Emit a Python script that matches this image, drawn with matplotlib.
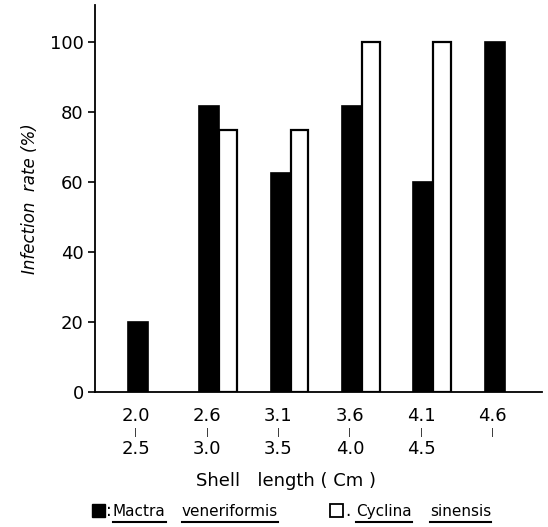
import matplotlib
matplotlib.use("Agg")
import matplotlib.pyplot as plt
import numpy as np

groups_top = ["2.0", "2.6", "3.1", "3.6", "4.1", "4.6"]
groups_bottom = ["2.5", "3.0", "3.5", "4.0", "4.5", ""]
mactra = [20, 81.8, 62.5, 81.8, 60, 100]
cyclina = [0, 75, 75, 100, 100, 0]
yticks = [0, 20, 40, 60, 80, 100]

plt.rcParams['font.family'] = ['DejaVu Sans']
fig = plt.figure(figsize=(5.48, 5.27), dpi=100)
ax = fig.add_axes([0.173, 0.256, 0.816, 0.734])

x = np.arange(len(groups_top))
w = 0.28
ax.bar(x, mactra, width=-w, align='edge', color='black', edgecolor='black', linewidth=1.2)
cx = [xi for xi, v in zip(x, cyclina) if v > 0]
cv = [v for v in cyclina if v > 0]
ax.bar(cx, cv, width=w * 0.88, align='edge', color='white', edgecolor='black', linewidth=1.6)

ax.set_xlim(-0.74, 5.52)
ax.set_ylim(0, 110.6)
ax.spines['top'].set_visible(False)
ax.spines['right'].set_visible(False)
ax.spines['left'].set_linewidth(1.3)
ax.spines['bottom'].set_linewidth(1.3)
ax.set_yticks(yticks)
ax.set_yticklabels([str(t) for t in yticks], fontsize=13)
ax.tick_params(axis='y', direction='out', length=5, width=1.2, pad=3)
ax.set_xticks([])

ax.set_ylabel("Infection  rate (%)", fontsize=12, style='italic', labelpad=8)

tr = ax.get_xaxis_transform()
for xi, t, b in zip(x, groups_top, groups_bottom):
    lx = xi - 0.17
    ax.text(lx, -0.062, t, transform=tr, ha='center', va='center', fontsize=13)
    ax.text(lx, -0.104, "|", transform=tr, ha='center', va='center', fontsize=6)
    if b:
        ax.text(lx, -0.146, b, transform=tr, ha='center', va='center', fontsize=13)

fig.text(0.522, 0.087, "Shell   length ( Cm )", ha='center', va='center', fontsize=13)

# legend
fig.patches.append(plt.Rectangle((92 / 548, 1 - 517 / 527), 13 / 548, 13 / 527,
                                 transform=fig.transFigure, facecolor='black', edgecolor='black'))
fig.patches.append(plt.Rectangle((330 / 548, 1 - 517 / 527), 13 / 548, 13 / 527,
                                 transform=fig.transFigure, facecolor='white', edgecolor='black', linewidth=1.3))
lb = 1 - 516 / 527
fig.text(106 / 548, lb, ":", ha='left', va='baseline', fontsize=12)
fig.text(345 / 548, lb, ".", ha='left', va='baseline', fontsize=12)
words = [("Mactra", 113), ("veneriformis", 182), ("Cyclina", 356), ("sinensis", 430)]
texts = []
for wd, px in words:
    texts.append(fig.text(px / 548, lb, wd, ha='left', va='baseline', fontsize=11))
fig.canvas.draw()
r = fig.canvas.get_renderer()
yline = 1 - 522 / 527
for t in texts:
    bb = t.get_window_extent(r)
    x0, x1 = bb.x0 / fig.bbox.width, bb.x1 / fig.bbox.width
    fig.add_artist(plt.Line2D([x0, x1], [yline, yline], transform=fig.transFigure,
                              color='black', linewidth=1.5))

fig.savefig("out.png", dpi=100)
